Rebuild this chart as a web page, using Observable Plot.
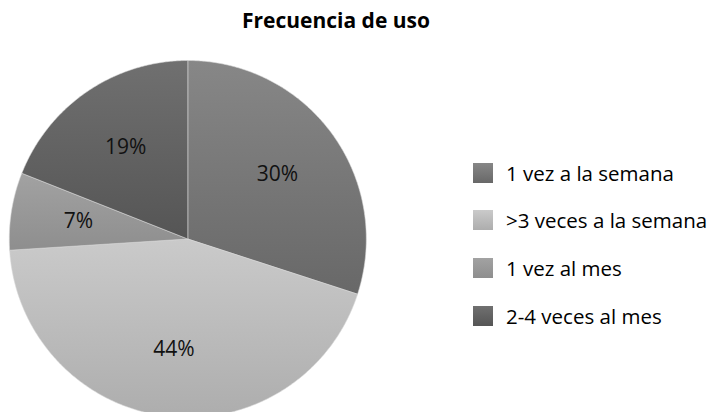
<!DOCTYPE html>
<html>
<head>
<meta charset="utf-8">
<script src="https://cdn.jsdelivr.net/npm/d3@7"></script>
<script src="https://cdn.jsdelivr.net/npm/@observablehq/plot@0.6"></script>
<style>
  html, body { margin: 0; padding: 0; background: #fff; }
  #wrap { position: relative; width: 715px; height: 412px; overflow: hidden; font-family: "Open Sans", sans-serif; }
  #title { position: absolute; left: 0; width: 672px; top: 6px; text-align: center; font-weight: bold; font-size: 21px; color: #000; }
  #chart { position: absolute; left: 0; top: 0; }
  #legend { position: absolute; left: 473px; top: 149px; }
  .item { display: flex; align-items: center; height: 47.6px; font-size: 20.5px; color: #000; white-space: nowrap; }
  .item .sw { width: 20px; height: 20px; margin-right: 13px; flex: none; }
</style>
</head>
<body>
<div id="wrap">
  <div id="chart"></div>
  <div id="title">Frecuencia de uso</div>
  <div id="legend"></div>
</div>
<script>
const categories = ["1 vez a la semana", ">3 veces a la semana", "1 vez al mes", "2-4 veces al mes"];
const values = [30, 44, 7, 19];
const labels = ["30%", "44%", "7%", "19%"];
const colorsTop = ["#878787", "#cacaca", "#a2a2a2", "#707070"];
const colorsBottom = ["#686868", "#adadad", "#8e8e8e", "#555555"];

const total = d3.sum(values);
const slices = [];
const labelPts = [];
let acc = 0;
values.forEach((v, i) => {
  const a0 = acc / total * 2 * Math.PI;
  acc += v;
  const a1 = acc / total * 2 * Math.PI;
  const n = Math.max(2, Math.ceil((a1 - a0) / (Math.PI / 360)));
  slices.push({i, x: 0, y: 0});
  for (let k = 0; k <= n; k++) {
    const a = a0 + (a1 - a0) * k / n;
    slices.push({i, x: Math.sin(a), y: Math.cos(a)});
  }
  slices.push({i, x: 0, y: 0});
  const am = (a0 + a1) / 2;
  labelPts.push({x: 0.62 * Math.sin(am), y: 0.62 * Math.cos(am), label: labels[i]});
});

const cx = 187.3, cy = 238.5, R = 178.5;
const marks = categories.map((c, i) =>
  Plot.line(slices.filter(d => d.i === i), {x: "x", y: "y", fill: `url(#grad${i})`, stroke: "#d8d8d8", strokeWidth: 0.8, strokeOpacity: 0.7, curve: "linear"})
);
marks.push(Plot.text(labelPts, {x: "x", y: "y", text: "label", fontSize: 21, fill: "#111", fontFamily: "Open Sans"}));

const svg = Plot.plot({
  width: 715, height: 412,
  marginTop: 0, marginBottom: 0, marginLeft: 0, marginRight: 0,
  x: {domain: [-1, 1], range: [cx - R, cx + R], axis: null},
  y: {domain: [-1, 1], range: [cy + R, cy - R], axis: null},
  style: {background: "transparent", overflow: "visible"},
  marks
});

const ns = "http://www.w3.org/2000/svg";
const defs = document.createElementNS(ns, "defs");
categories.forEach((c, i) => {
  const g = document.createElementNS(ns, "linearGradient");
  g.setAttribute("id", `grad${i}`);
  g.setAttribute("x1", "0"); g.setAttribute("y1", "0");
  g.setAttribute("x2", "0"); g.setAttribute("y2", "1");
  [[0, colorsTop[i]], [1, colorsBottom[i]]].forEach(([o, col]) => {
    const s = document.createElementNS(ns, "stop");
    s.setAttribute("offset", o);
    s.setAttribute("stop-color", col);
    g.appendChild(s);
  });
  defs.appendChild(g);
});
svg.insertBefore(defs, svg.firstChild);
document.getElementById("chart").appendChild(svg);

const legend = document.getElementById("legend");
categories.forEach((c, i) => {
  const item = document.createElement("div");
  item.className = "item";
  item.innerHTML = `<div class="sw" style="background: linear-gradient(${colorsTop[i]}, ${colorsBottom[i]})"></div><span></span>`;
  item.querySelector("span").textContent = c;
  legend.appendChild(item);
});
</script>
</body>
</html>
